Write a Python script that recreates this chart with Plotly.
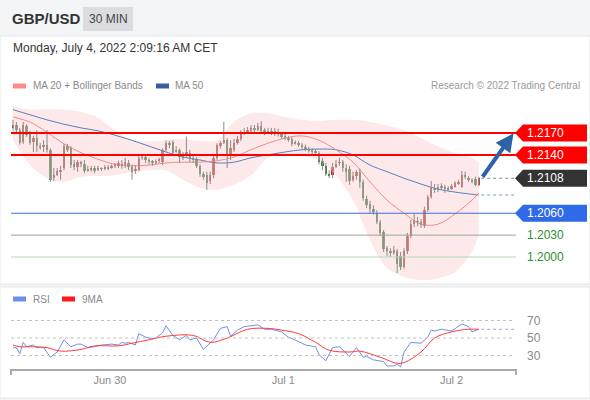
import plotly.graph_objects as go

# ---------------- data ----------------
open_ = [1.2177,1.2181,1.2174,1.2158,1.2180,1.2170,1.2158,1.2163,1.2152,1.2151,
         1.2154,1.2147,1.2108,1.2112,1.2117,1.2122,1.2152,1.2149,1.2127,1.2123,
         1.2130,1.2127,1.2118,1.2119,1.2122,1.2119,1.2122,1.2121,1.2123,1.2122,
         1.2125,1.2125,1.2127,1.2125,1.2129,1.2123,1.2118,1.2119,1.2136,1.2137,
         1.2133,1.2132,1.2130,1.2132,1.2130,1.2147,1.2156,1.2158,1.2144,1.2147,
         1.2138,1.2140,1.2143,1.2136,1.2133,1.2125,1.2114,1.2112,1.2104,1.2112,
         1.2136,1.2152,1.2156,1.2160,1.2141,1.2147,1.2156,1.2162,1.2170,1.2171,
         1.2173,1.2177,1.2174,1.2180,1.2174,1.2171,1.2173,1.2170,1.2171,1.2169,
         1.2166,1.2163,1.2162,1.2156,1.2156,1.2154,1.2151,1.2148,1.2147,1.2145,
         1.2143,1.2132,1.2125,1.2114,1.2112,1.2123,1.2129,1.2130,1.2122,1.2121,
         1.2106,1.2111,1.2117,1.2103,1.2080,1.2073,1.2066,1.2060,1.2048,1.2034,
         1.2012,1.2008,1.2005,1.2008,1.2001,1.1986,1.2008,1.2029,1.2045,1.2049,
         1.2048,1.2042,1.2064,1.2082,1.2093,1.2092,1.2096,1.2095,1.2094,1.2093,
         1.2096,1.2101,1.2096,1.2112,1.2108,1.2106,1.2107,1.2099]
high = [1.2188,1.2185,1.2177,1.2185,1.2182,1.2173,1.2166,1.2174,1.2156,1.2160,
        1.2174,1.2149,1.2122,1.2122,1.2125,1.2155,1.2155,1.2152,1.2133,1.2133,
        1.2132,1.2133,1.2125,1.2125,1.2125,1.2125,1.2123,1.2126,1.2126,1.2127,
        1.2129,1.2132,1.2133,1.2136,1.2133,1.2127,1.2126,1.2140,1.2141,1.2140,
        1.2136,1.2133,1.2134,1.2136,1.2149,1.2160,1.2159,1.2160,1.2152,1.2149,
        1.2144,1.2165,1.2147,1.2140,1.2137,1.2127,1.2117,1.2117,1.2117,1.2140,
        1.2156,1.2159,1.2185,1.2163,1.2160,1.2162,1.2166,1.2174,1.2177,1.2178,
        1.2181,1.2181,1.2184,1.2186,1.2177,1.2177,1.2177,1.2177,1.2176,1.2171,
        1.2169,1.2166,1.2165,1.2160,1.2159,1.2156,1.2154,1.2151,1.2149,1.2148,
        1.2145,1.2136,1.2129,1.2119,1.2129,1.2133,1.2136,1.2133,1.2127,1.2125,
        1.2117,1.2119,1.2121,1.2106,1.2084,1.2077,1.2071,1.2064,1.2051,1.2037,
        1.2015,1.2012,1.2015,1.2011,1.2007,1.2012,1.2033,1.2051,1.2059,1.2055,
        1.2052,1.2069,1.2085,1.2104,1.2100,1.2100,1.2101,1.2099,1.2097,1.2100,
        1.2104,1.2106,1.2118,1.2117,1.2111,1.2108,1.2110,1.2110]
low = [1.2173,1.2171,1.2154,1.2155,1.2165,1.2154,1.2144,1.2144,1.2147,1.2144,
       1.2143,1.2103,1.2104,1.2111,1.2106,1.2119,1.2144,1.2122,1.2119,1.2117,
       1.2123,1.2115,1.2117,1.2117,1.2115,1.2118,1.2118,1.2119,1.2119,1.2121,
       1.2122,1.2122,1.2121,1.2122,1.2119,1.2106,1.2114,1.2117,1.2133,1.2129,
       1.2127,1.2125,1.2127,1.2129,1.2126,1.2144,1.2149,1.2140,1.2143,1.2129,
       1.2133,1.2136,1.2130,1.2129,1.2122,1.2110,1.2106,1.2092,1.2100,1.2108,
       1.2133,1.2149,1.2155,1.2122,1.2133,1.2144,1.2154,1.2159,1.2167,1.2169,
       1.2170,1.2171,1.2173,1.2169,1.2167,1.2169,1.2167,1.2166,1.2165,1.2162,
       1.2160,1.2158,1.2152,1.2154,1.2151,1.2148,1.2145,1.2143,1.2141,1.2140,
       1.2127,1.2119,1.2111,1.2108,1.2108,1.2122,1.2125,1.2117,1.2103,1.2099,
       1.2103,1.2106,1.2095,1.2077,1.2067,1.2060,1.2058,1.2045,1.2029,1.2007,
       1.2001,1.2000,1.2003,1.1978,1.1982,1.1984,1.2004,1.2026,1.2041,1.2042,
       1.2040,1.2040,1.2062,1.2080,1.2088,1.2089,1.2092,1.2088,1.2090,1.2092,
       1.2095,1.2099,1.2095,1.2107,1.2103,1.2101,1.2097,1.2097]
close = [1.2181,1.2174,1.2156,1.2181,1.2167,1.2156,1.2163,1.2152,1.2149,1.2154,
         1.2147,1.2106,1.2112,1.2118,1.2119,1.2152,1.2147,1.2126,1.2123,1.2130,
         1.2127,1.2118,1.2121,1.2122,1.2118,1.2122,1.2121,1.2123,1.2122,1.2125,
         1.2126,1.2129,1.2125,1.2130,1.2123,1.2117,1.2121,1.2136,1.2137,1.2133,
         1.2130,1.2129,1.2132,1.2133,1.2147,1.2156,1.2154,1.2143,1.2147,1.2137,
         1.2137,1.2144,1.2136,1.2133,1.2125,1.2114,1.2110,1.2101,1.2112,1.2136,
         1.2154,1.2156,1.2160,1.2140,1.2149,1.2156,1.2162,1.2170,1.2171,1.2174,
         1.2177,1.2174,1.2180,1.2173,1.2170,1.2173,1.2170,1.2173,1.2169,1.2165,
         1.2163,1.2160,1.2155,1.2157,1.2154,1.2151,1.2148,1.2145,1.2144,1.2143,
         1.2130,1.2125,1.2114,1.2111,1.2123,1.2127,1.2130,1.2122,1.2117,1.2104,
         1.2111,1.2117,1.2103,1.2081,1.2071,1.2066,1.2062,1.2048,1.2033,1.2011,
         1.2008,1.2005,1.2010,1.1990,1.1986,1.2008,1.2029,1.2045,1.2051,1.2048,
         1.2044,1.2064,1.2082,1.2095,1.2092,1.2096,1.2095,1.2094,1.2093,1.2097,
         1.2101,1.2103,1.2112,1.2110,1.2106,1.2104,1.2099,1.2108]

band_idx = [0,5,10,15,20,25,30,35,40,45,50,55,60,65,70,75,80,85,90,95,100,105,110,115,120,125,130,135,137]
bb_upper = [1.2207,1.2202,1.2203,1.2202,1.2199,1.2191,1.2174,1.2160,1.2158,1.2160,1.2162,1.2159,1.2160,1.2185,1.2197,
            1.2197,1.2192,1.2188,1.2186,1.2188,1.2188,1.2185,1.2180,1.2174,1.2163,1.2152,1.2143,1.2136,1.2130]
bb_lower = [1.2160,1.2126,1.2108,1.2103,1.2110,1.2111,1.2112,1.2117,1.2119,1.2119,1.2106,1.2095,1.2092,1.2099,1.2112,
            1.2136,1.2140,1.2138,1.2133,1.2112,1.2078,1.2023,1.1985,1.1973,1.1968,1.1971,1.1979,1.2007,1.2030]
ma20 = [1.2192,1.2185,1.2171,1.2155,1.2143,1.2134,1.2127,1.2125,1.2126,1.2129,1.2130,1.2130,1.2132,1.2137,1.2147,
        1.2156,1.2163,1.2166,1.2160,1.2147,1.2130,1.2103,1.2078,1.2060,1.2045,1.2045,1.2059,1.2078,1.2088]
ma50 = [1.2202,1.2195,1.2188,1.2182,1.2177,1.2173,1.2167,1.2160,1.2152,1.2144,1.2137,1.2133,1.2129,1.2130,1.2136,
        1.2140,1.2144,1.2147,1.2148,1.2147,1.2140,1.2126,1.2117,1.2108,1.2100,1.2093,1.2089,1.2086,1.2085]

rsi_idx = [0,1,2,3,4,6,7,9,11,13,15,17,19,20,22,24,26,29,31,32,33,34,36,37,39,41,42,44,45,47,49,51,52,54,56,58,59,
           61,63,64,66,68,70,72,74,76,79,81,84,86,89,90,92,94,96,97,99,101,103,104,106,109,110,112,113,114,115,117,
           119,120,122,123,124,126,129,132,134,135,137]
rsi_val = [39,39,32,45,40,42,39,39,28,34,48,40,43,43,39,40,42,43,42,45,44,45,42,55,51,49,50,56,64,53,48,53,48,50,37,45,48,
           61,63,52,59,63,64,65,60,60,57,51,46,42,40,31,24,39,40,36,29,39,28,29,25,23,18,18,20,17,34,45,
           44,44,51,59,58,60,58,66,63,57,60]
ma9_idx = [0,2,6,10,14,20,24,31,35,40,45,53,58,63,69,75,79,84,89,93,99,102,108,114,120,124,129,134,137]
ma9_val = [42,40,40,39,35,37,41,41,44,48,52,53,45,50,60,61,59,55,45,36,34,35,28,21,34,50,57,60,60]

levels = [1.2170, 1.2140, 1.2108, 1.2060, 1.2030, 1.2000]
rsi_levels = [70, 50, 30]
tick_idx = [28.5, 79.5, 129]
tick_text = ["Jun 30", "Jul 1", "Jul 2"]

# ---------------- layout helpers ----------------
W, H = 590, 400
def px(x): return x / W
def py(y): return 1 - y / H

FONT = "Liberation Sans, Arial, sans-serif"
UP, DOWN = "#e3231e", "#2e7d32"

n = len(close)
idx = list(range(n))

fig = go.Figure()

# Bollinger band fill
fig.add_trace(go.Scatter(x=band_idx, y=bb_upper, mode="lines", line=dict(width=0, shape="spline", smoothing=0.8),
                         hoverinfo="skip", showlegend=False))
fig.add_trace(go.Scatter(x=band_idx, y=bb_lower, mode="lines", line=dict(width=0, shape="spline", smoothing=0.8),
                         fill="tonexty", fillcolor="rgba(252,212,212,0.5)", hoverinfo="skip", showlegend=False))
fig.add_trace(go.Scatter(x=band_idx, y=ma50, mode="lines", line=dict(color="#5a7fc0", width=1, shape="spline"),
                         showlegend=False))
fig.add_trace(go.Scatter(x=band_idx, y=ma20, mode="lines", line=dict(color="#f48a8a", width=1, shape="spline"),
                         showlegend=False))

# wicks
wx, wy = [], []
for i in idx:
    wx += [i, i, None]
    wy += [low[i], high[i], None]
fig.add_trace(go.Scatter(x=wx, y=wy, mode="lines", line=dict(color="#8a8a8a", width=1), showlegend=False,
                         hoverinfo="skip"))
# bodies
base = [min(o, c) for o, c in zip(open_, close)]
hgt = [max(abs(c - o), 0.00006) for o, c in zip(open_, close)]
cols = [UP if c >= o else DOWN for o, c in zip(open_, close)]
fig.add_trace(go.Bar(x=idx, y=hgt, base=base, width=0.75, marker=dict(color=cols, line=dict(width=0)),
                     showlegend=False))

# RSI
fig.add_trace(go.Scatter(x=rsi_idx, y=rsi_val, mode="lines", line=dict(color="#7092e6", width=1),
                         xaxis="x2", yaxis="y2", showlegend=False))
fig.add_trace(go.Scatter(x=ma9_idx, y=ma9_val, mode="lines", line=dict(color="#ff3b3b", width=1, shape="spline"),
                         xaxis="x2", yaxis="y2", showlegend=False))

shapes = []
# panels
shapes.append(dict(type="rect", xref="paper", yref="paper", x0=0, x1=1, y0=py(284), y1=py(36),
                   fillcolor="white", line=dict(color="#e6e7ea", width=1), layer="below"))
shapes.append(dict(type="rect", xref="paper", yref="paper", x0=0, x1=1, y0=py(398), y1=py(287),
                   fillcolor="white", line=dict(color="#e6e7ea", width=1), layer="below"))
shapes.append(dict(type="rect", xref="paper", yref="paper", x0=px(83), x1=px(133), y0=py(31), y1=py(7),
                   fillcolor="#dcdde1", line=dict(width=0), layer="below"))

level_style = [
    dict(color="#ff0000", width=2, dash="solid", box="#ff0000", txt="white"),
    dict(color="#ff0000", width=2, dash="solid", box="#ff0000", txt="white"),
    dict(color="#888888", width=1, dash="dot", box="#333333", txt="white"),
    dict(color="#3a6fe0", width=1.2, dash="solid", box="#2f6be8", txt="white"),
    dict(color="#93a893", width=1, dash="solid", box=None, txt="#2f8f2f"),
    dict(color="#b5dab5", width=1.2, dash="solid", box=None, txt="#2f8f2f"),
]
annotations = []
for lv, st in zip(levels, level_style):
    if st["dash"] == "dot":
        shapes.append(dict(type="line", xref="x", yref="y", x0=n - 0.3, x1=147.9, y0=lv, y1=lv,
                           line=dict(color=st["color"], width=1, dash="dot")))
    else:
        shapes.append(dict(type="line", xref="x domain", yref="y", x0=0, x1=1, y0=lv, y1=lv,
                           line=dict(color=st["color"], width=st["width"])))
    if st["box"]:
        shapes.append(dict(type="path", xref="paper", yref="y", xsizemode="pixel", ysizemode="pixel",
                           xanchor=px(515), yanchor=lv, path="M0,0 L8,8.5 L72,8.5 L72,-8.5 L8,-8.5 Z",
                           fillcolor=st["box"], line=dict(width=0)))
    annotations.append(dict(xref="paper", yref="y", x=px(525), y=lv, text=f"{lv:.4f}", showarrow=False,
                            xanchor="left", yanchor="middle", font=dict(family=FONT, size=12, color=st["txt"])))

# MA50 dotted extension
shapes.append(dict(type="line", xref="x", yref="y", x0=n - 0.3, x1=147.9, y0=ma50[-1], y1=ma50[-1],
                   line=dict(color="#7d98cc", width=1, dash="dot")))

# RSI guide lines
for rv in rsi_levels:
    shapes.append(dict(type="line", xref="x2 domain", yref="y2", x0=0, x1=0.998, y0=rv, y1=rv,
                       line=dict(color="#c2c2c2", width=1, dash="dot")))
    annotations.append(dict(xref="paper", yref="y2", x=px(525), y=rv, text=str(rv), showarrow=False,
                            xanchor="left", yanchor="middle", font=dict(family=FONT, size=12, color="#8a8a8a")))
shapes.append(dict(type="line", xref="x2", yref="y2", x0=n - 0.3, x1=147.9, y0=rsi_val[-1], y1=rsi_val[-1],
                   line=dict(color="#8ea6e6", width=1, dash="dot")))
# axis end ticks
for xx in (11, 516):
    shapes.append(dict(type="line", xref="paper", yref="paper", x0=px(xx), x1=px(xx), y0=py(369), y1=py(375),
                       line=dict(color="#aaaaaa", width=2)))

# forecast arrow
annotations.append(dict(xref="x", yref="y", axref="x", ayref="y", x=147.2, y=levels[0] - 0.00005,
                        ax=n - 0.2, ay=close[-1], text="", showarrow=True, arrowhead=2, arrowsize=0.9,
                        arrowwidth=4, arrowcolor="#2e62a6"))

# header / legend texts
def txt(x, y, s, size, color, anchor="left", bold=False):
    annotations.append(dict(xref="paper", yref="paper", x=px(x), y=py(y), text=(f"<b>{s}</b>" if bold else s),
                            showarrow=False, xanchor=anchor, yanchor="middle",
                            font=dict(family=FONT, size=size, color=color)))

txt(10, 18, "GBP/USD", 15, "#333333", bold=True)
txt(108, 19, "30 MIN", 12, "#444444", anchor="center")
txt(11, 48, "Monday, July 4, 2022 2:09:16 AM CET", 12, "#333333")
txt(31, 86, "MA 20 + Bollinger Bands", 10, "#8a8a8a")
txt(173, 86, "MA 50", 10, "#8a8a8a")
txt(582, 86, "Research © 2022 Trading Central", 10, "#9a9a9a", anchor="right")
txt(31, 299, "RSI", 10, "#8a8a8a")
txt(80, 299, "9MA", 10, "#8a8a8a")
for (x0, x1, yy, c) in [(13, 26, 86, "#ff8a8a"), (156, 169, 86, "#3b5f9e"), (13, 26, 299, "#6d8fe8"), (62, 75, 299, "#ff1a1a")]:
    shapes.append(dict(type="rect", xref="paper", yref="paper", x0=px(x0), x1=px(x1), y0=py(yy + 2.5),
                       y1=py(yy - 2.5), fillcolor=c, line=dict(width=0)))

xr = [-0.588, 147.94]
fig.update_layout(
    width=W, height=H, autosize=False, margin=dict(l=0, r=0, t=0, b=0),
    paper_bgcolor="#f4f5f7", plot_bgcolor="rgba(0,0,0,0)", showlegend=False,
    font=dict(family=FONT),
    xaxis=dict(domain=[px(11), px(516)], range=xr, visible=False, fixedrange=True),
    yaxis=dict(domain=[py(283), py(95)], range=[1.196435, 1.222210], visible=False),
    xaxis2=dict(domain=[px(11), px(516)], range=xr, anchor="y2", showgrid=False, zeroline=False,
                showline=True, linecolor="#aaaaaa", linewidth=2, tickvals=tick_idx, ticktext=tick_text,
                ticks="", tickfont=dict(family=FONT, size=11, color="#8a8a8a")),
    yaxis2=dict(domain=[py(369), py(300)], range=[14.571, 93.429], visible=False),
    shapes=shapes, annotations=annotations, bargap=0,
)
fig.write_html("out.html", config={"displayModeBar": False},
               post_script="document.body.style.margin='0';document.body.style.overflow='hidden';")
